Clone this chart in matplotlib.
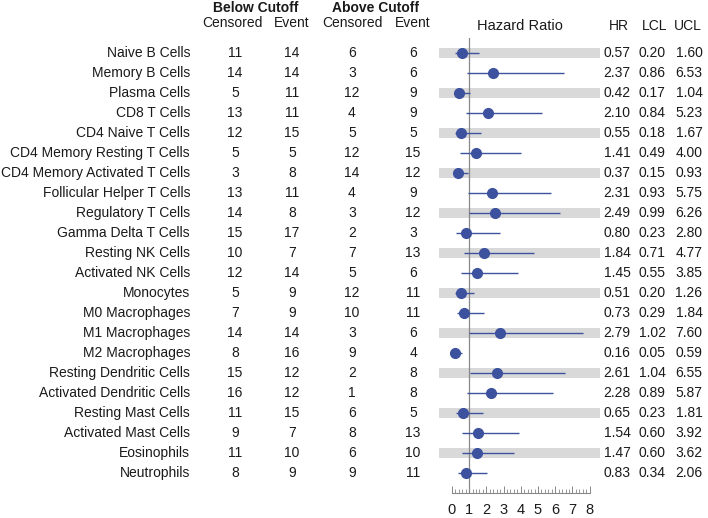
import numpy as np
import matplotlib.pyplot as plt
from matplotlib.ticker import MultipleLocator, FixedLocator
import matplotlib.transforms as mtransforms

plt.rcParams['font.family'] = ['Liberation Sans', 'DejaVu Sans']

cells = ["Naive B Cells", "Memory B Cells", "Plasma Cells", "CD8 T Cells",
         "CD4 Naive T Cells", "CD4 Memory Resting T Cells",
         "CD4 Memory Activated T Cells", "Follicular Helper T Cells",
         "Regulatory T Cells", "Gamma Delta T Cells", "Resting NK Cells",
         "Activated NK Cells", "Monocytes", "M0 Macrophages", "M1 Macrophages",
         "M2 Macrophages", "Resting Dendritic Cells", "Activated Dendritic Cells",
         "Resting Mast Cells", "Activated Mast Cells", "Eosinophils", "Neutrophils"]
below_cens = [11, 14, 5, 13, 12, 5, 3, 13, 14, 15, 10, 12, 5, 7, 14, 8, 15, 16, 11, 9, 11, 8]
below_event = [14, 14, 11, 11, 15, 5, 8, 11, 8, 17, 7, 14, 9, 9, 14, 16, 12, 12, 15, 7, 10, 9]
above_cens = [6, 3, 12, 4, 5, 12, 14, 4, 3, 2, 7, 5, 12, 10, 3, 9, 2, 1, 6, 8, 6, 9]
above_event = [6, 6, 9, 9, 5, 15, 12, 9, 12, 3, 13, 6, 11, 11, 6, 4, 8, 8, 5, 13, 10, 11]
hr = [0.57, 2.37, 0.42, 2.10, 0.55, 1.41, 0.37, 2.31, 2.49, 0.80, 1.84,
      1.45, 0.51, 0.73, 2.79, 0.16, 2.61, 2.28, 0.65, 1.54, 1.47, 0.83]
lcl = [0.20, 0.86, 0.17, 0.84, 0.18, 0.49, 0.15, 0.93, 0.99, 0.23, 0.71,
       0.55, 0.20, 0.29, 1.02, 0.05, 1.04, 0.89, 0.23, 0.60, 0.60, 0.34]
ucl = [1.60, 6.53, 1.04, 5.23, 1.67, 4.00, 0.93, 5.75, 6.26, 2.80, 4.77,
       3.85, 1.26, 1.84, 7.60, 0.59, 6.55, 5.87, 1.81, 3.92, 3.62, 2.06]

W, H = 708, 518
blue = "#3D529E"
txt = "#1a1a1a"

fig = plt.figure(figsize=(W / 100, H / 100), dpi=100)
# forest panel: x 439..600 px, y 38..493 px
ax = fig.add_axes([439 / W, 1 - 493 / H, (600 - 439) / W, (493 - 38) / H])
n = len(cells)
top = -0.75
bottom = (493 - 53) / 20
ax.set_ylim(bottom, top)
ax.set_xlim(-0.75, 8.6)

y = np.arange(n)
for i in range(0, n, 2):
    ax.axhspan(i - 0.25, i + 0.25, xmin=0, xmax=1, color="#d9d9d9", lw=0, zorder=0)

ax.plot([1, 1], [top, bottom], color="#888888", lw=0.9, zorder=1)
ax.hlines(y, lcl, ucl, color=blue, lw=1.0, zorder=2)
ax.plot(hr, y, "o", color=blue, ms=7, zorder=3)

for s in ["top", "left", "right"]:
    ax.spines[s].set_visible(False)
ax.spines["bottom"].set_bounds(0, 8)
ax.spines["bottom"].set_color("#888888")
ax.spines["bottom"].set_linewidth(0.8)
ax.set_yticks([])
ax.xaxis.set_major_locator(MultipleLocator(1))
ax.xaxis.set_minor_locator(FixedLocator([v / 5 for v in range(41) if v % 5]))
ax.tick_params(axis="x", which="major", direction="in", length=5, width=0.7,
               color="#888888", labelsize=10.5, labelcolor=txt, pad=7)
ax.tick_params(axis="x", which="minor", direction="in", length=3, width=0.6,
               color="#888888")

# table text: x in figure px, y in data rows
tr = mtransforms.blended_transform_factory(fig.transFigure, ax.transData)
def fx(px):
    return px / W

cols = [(235, below_cens), (292, below_event), (352, above_cens), (413, above_event)]
for i in range(n):
    ax.text(fx(190), i, cells[i], transform=tr, ha="right", va="center",
            fontsize=10, color=txt)
    for px, vals in cols:
        ax.text(fx(px), i, str(vals[i]), transform=tr, ha="center", va="center",
                fontsize=10, color=txt)
    ax.text(fx(617), i, f"{hr[i]:.2f}", transform=tr, ha="center", va="center",
            fontsize=10, color=txt)
    ax.text(fx(652), i, f"{lcl[i]:.2f}", transform=tr, ha="center", va="center",
            fontsize=10, color=txt)
    ax.text(fx(689), i, f"{ucl[i]:.2f}", transform=tr, ha="center", va="center",
            fontsize=10, color=txt)

# headers
def fy(py):
    return 1 - py / H

fig.text(fx(256), fy(8), "Below Cutoff", ha="center", va="center",
         fontsize=10, fontweight="bold", color=txt)
fig.text(fx(375), fy(8), "Above Cutoff", ha="center", va="center",
         fontsize=10, fontweight="bold", color=txt)
for px, lab in [(232, "Censored"), (292, "Event"), (352, "Censored"), (413, "Event")]:
    fig.text(fx(px), fy(23), lab, ha="center", va="center", fontsize=10, color=txt)
fig.text(fx(520), fy(26), "Hazard Ratio", ha="center", va="center", fontsize=10.5, color=txt)
for px, lab in [(619, "HR"), (655, "LCL"), (688, "UCL")]:
    fig.text(fx(px), fy(26), lab, ha="center", va="center", fontsize=10, color=txt)

fig.savefig("out.png", dpi=100)
